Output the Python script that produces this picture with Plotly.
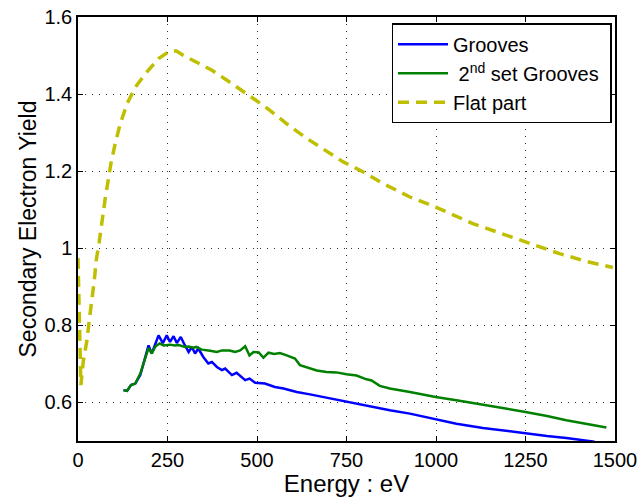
import plotly.graph_objects as go

# Secondary electron yield vs. primary energy
grooves_e = [127, 137, 148, 160, 174, 188, 197, 206, 216, 225, 237, 248, 257, 267, 276,
             287, 296, 309, 318, 327, 336, 350, 364, 374, 388, 402, 411, 430, 443, 467,
             479, 495, 522, 550, 574, 611, 648, 674, 720, 760, 815, 871, 927, 999, 1057,
             1131, 1190, 1250, 1310, 1364, 1443]
grooves_sey = [0.632, 0.630, 0.645, 0.649, 0.671, 0.718, 0.748, 0.727, 0.752, 0.774, 0.754,
               0.774, 0.757, 0.772, 0.754, 0.770, 0.753, 0.731, 0.744, 0.727, 0.740, 0.718,
               0.701, 0.705, 0.692, 0.684, 0.688, 0.671, 0.677, 0.658, 0.662, 0.651, 0.649,
               0.640, 0.636, 0.627, 0.621, 0.616, 0.608, 0.601, 0.590, 0.580, 0.571, 0.556,
               0.545, 0.534, 0.527, 0.519, 0.513, 0.508, 0.498]

set2_e = [127, 137, 148, 160, 174, 188, 197, 206, 216, 228, 239, 257, 270, 281, 299, 309,
          323, 330, 346, 369, 388, 402, 423, 439, 453, 467, 479, 490, 505, 518, 532, 548,
          564, 583, 601, 606, 620, 639, 648, 667, 694, 722, 750, 778, 806, 820, 843, 871,
          927, 999, 1057, 1131, 1190, 1250, 1310, 1364, 1420, 1476]
set2_sey = [0.632, 0.630, 0.645, 0.649, 0.675, 0.712, 0.741, 0.727, 0.745, 0.753, 0.748,
            0.750, 0.748, 0.749, 0.744, 0.745, 0.742, 0.744, 0.737, 0.734, 0.731, 0.735,
            0.735, 0.731, 0.735, 0.746, 0.722, 0.731, 0.730, 0.716, 0.729, 0.726, 0.728,
            0.722, 0.717, 0.714, 0.697, 0.692, 0.689, 0.683, 0.679, 0.678, 0.673, 0.670,
            0.660, 0.657, 0.643, 0.636, 0.627, 0.614, 0.606, 0.595, 0.585, 0.575, 0.565,
            0.554, 0.545, 0.535]

flat_e = [0, 2, 4, 6, 8, 15, 25, 31.5, 39, 45.5, 51, 59, 76, 92, 104, 118, 137, 160, 192,
          225, 257, 275, 295, 332, 374, 416, 462, 497, 536, 583, 639, 700, 741, 797, 852,
          927, 999, 1103, 1197, 1250, 1345, 1420, 1494]
flat_sey = [0.975, 0.86, 0.75, 0.65, 0.645, 0.709, 0.761, 0.813, 0.865, 0.917, 0.969, 1.015,
            1.129, 1.22, 1.272, 1.323, 1.375, 1.418, 1.457, 1.492, 1.512, 1.512, 1.50, 1.483,
            1.462, 1.436, 1.405, 1.384, 1.358, 1.323, 1.285, 1.248, 1.224, 1.198, 1.168,
            1.133, 1.107, 1.064, 1.034, 1.016, 0.986, 0.966, 0.950]

x_ticks = [0, 250, 500, 750, 1000, 1250, 1500]
y_ticks = [0.6, 0.8, 1.0, 1.2, 1.4, 1.6]
y_tick_text = ["0.6", "0.8", "1", "1.2", "1.4", "1.6"]

font_family = "Liberation Sans, Arial, sans-serif"

fig = go.Figure()
fig.add_trace(go.Scatter(x=grooves_e, y=grooves_sey, mode="lines", name="Grooves",
                         legendgroup="a", line=dict(color="#0000FF", width=2.5)))
fig.add_trace(go.Scatter(x=set2_e, y=set2_sey, mode="lines",
                         name="\u00a02<sup>nd</sup> set Grooves\u00a0",
                         legendgroup="b", line=dict(color="#008000", width=2.5)))
fig.add_trace(go.Scatter(x=flat_e, y=flat_sey, mode="lines", name="Flat part",
                         legendgroup="c",
                         line=dict(color="#BFBF00", width=3.5, dash="11px,7px")))

axis_common = dict(
    showline=True, linecolor="black", linewidth=1.5, mirror="allticks",
    ticks="inside", ticklen=5, tickwidth=1, tickcolor="black",
    showgrid=True, gridcolor="#333333", gridwidth=1, griddash="1px,6px",
    zeroline=False, automargin=False,
    tickfont=dict(size=20, color="black", family=font_family),
)

fig.update_xaxes(range=[0, 1500], tickvals=x_ticks,
                 title=dict(text="Energy : eV", font=dict(size=24, color="black", family=font_family),
                            standoff=2),
                 **axis_common)
fig.update_yaxes(range=[0.5, 1.6], tickvals=y_ticks, ticktext=y_tick_text,
                 title=dict(text="Secondary Electron Yield",
                            font=dict(size=23, color="black", family=font_family), standoff=1),
                 **axis_common)

fig.update_layout(
    width=639, height=497,
    margin=dict(l=78, r=24, t=17, b=56),
    paper_bgcolor="white", plot_bgcolor="white",
    font=dict(family=font_family, color="black"),
    showlegend=True,
    legend=dict(x=0.9935, y=0.985, xanchor="right", yanchor="top",
                bgcolor="white", bordercolor="black", borderwidth=1.5,
                font=dict(size=20, color="black", family=font_family),
                itemwidth=50, traceorder="grouped", tracegroupgap=0),
)

fig.write_html("out.html")
